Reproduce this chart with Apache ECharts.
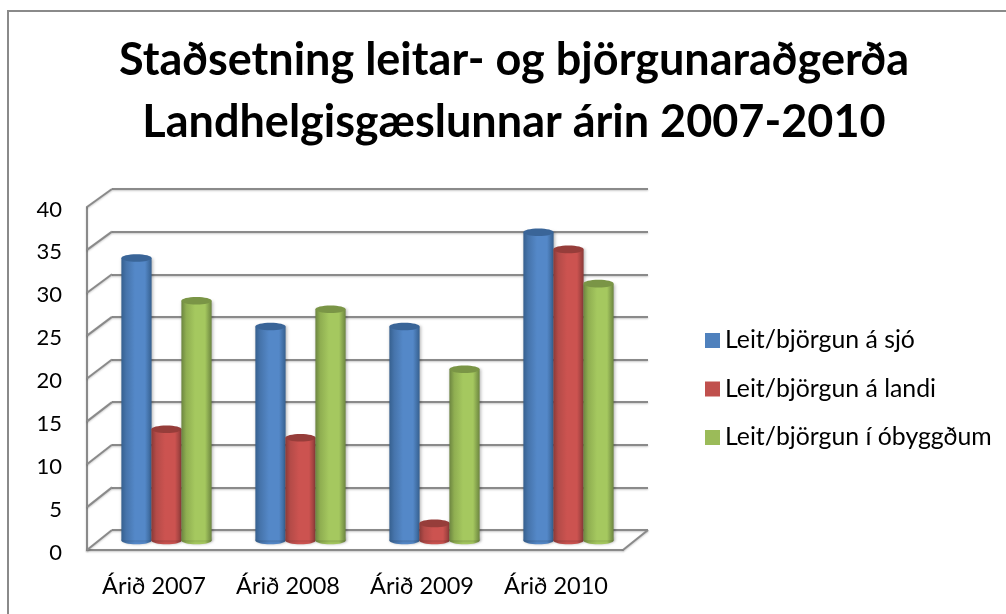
<!DOCTYPE html>
<html>
<head>
<meta charset="utf-8">
<style>
html,body{margin:0;padding:0;background:#fff;}
#chart{width:1006px;height:614px;}
</style>
<script src="https://cdn.jsdelivr.net/npm/echarts@6/dist/echarts.min.js"></script>
</head>
<body>
<div id="chart"></div>
<script>
const categories = ['Árið 2007', 'Árið 2008', 'Árið 2009', 'Árið 2010'];
const seaValues = [33, 25, 25, 36];
const landValues = [13, 12, 2, 34];
const wildValues = [28, 27, 20, 30];
const wallTicks = [0, 5, 10, 15, 20, 25, 30, 35, 40];
const seriesNames = ['Leit/björgun á sjó', 'Leit/björgun á landi', 'Leit/björgun í óbyggðum'];

const fontName = 'Lato';
const lineColor = '#8a8a8a';
const lineShadow = { shadowColor: 'rgba(0,0,0,0.22)', shadowBlur: 2, shadowOffsetY: 1 };

// 3 plön: framveggur (grid 0), bakveggur (grid 1), miðja fyrir súlurnar (grid 2)
const grids = [
    { left: 87, top: 207, width: 536, height: 343 },
    { left: 112, top: 189, width: 536, height: 341 },
    { left: 99.5, top: 198, width: 536, height: 342.5 }
];

// sívalningur: rect + neðri sporbaugur með lóðréttum skugga, toppur dekkri
const cylinder = (offset, colors) => (params, api) => {
    const top = api.coord([api.value(0), api.value(1)]);
    const base = api.coord([api.value(0), 0]);
    const band = api.size([1, 0])[0];
    const w = band * 0.2255;
    const cx = top[0] + offset * band * 0.224;
    const ry = 3.8;
    const fill = new echarts.graphic.LinearGradient(0, 0, 1, 0, [
        { offset: 0, color: colors[0] },
        { offset: 0.16, color: colors[1] },
        { offset: 0.45, color: colors[2] },
        { offset: 0.78, color: colors[2] },
        { offset: 1, color: colors[0] }
    ]);
    const shadow = { shadowColor: 'rgba(0,0,0,0.28)', shadowBlur: 3, shadowOffsetX: 1 };
    return {
        type: 'group',
        children: [
            {
                type: 'ellipse',
                shape: { cx: cx, cy: base[1], rx: w / 2, ry: ry },
                style: { fill: fill, ...shadow }
            },
            {
                type: 'rect',
                shape: { x: cx - w / 2, y: top[1], width: w, height: base[1] - top[1] },
                style: { fill: fill, ...shadow }
            },
            {
                type: 'ellipse',
                shape: { cx: cx, cy: top[1], rx: w / 2, ry: ry },
                style: { fill: colors[3] }
            }
        ]
    };
};

const barSeries = (name, values, offset, legendColor, colors) => ({
    name: name,
    type: 'custom',
    xAxisIndex: 2,
    yAxisIndex: 2,
    data: values.map((v, i) => [i, v]),
    encode: { x: 0, y: 1 },
    itemStyle: { color: legendColor },
    renderItem: cylinder(offset, colors),
    z: 5,
    silent: true
});

// hliðarlínur frá framvegg að bakvegg
const renderWall = (params, api) => {
    const v = api.value(0);
    const p = api.coord([0, v]);
    const left = params.coordSys.x;
    const right = left + params.coordSys.width;
    const dy = 18 + 2 * (1 - v / 40);
    const style = { stroke: lineColor, lineWidth: 2, ...lineShadow };
    const children = [{
        type: 'line',
        shape: { x1: left, y1: p[1], x2: left + 25, y2: p[1] - dy },
        style: style
    }];
    if (v === 0) {
        children.push({
            type: 'line',
            shape: { x1: right, y1: p[1], x2: right + 25, y2: p[1] - dy },
            style: style
        });
    }
    return { type: 'group', children: children };
};

const hiddenX = (i) => ({ type: 'category', gridIndex: i, data: categories, show: false });
const hiddenY = (i) => ({ type: 'value', gridIndex: i, min: 0, max: 40, interval: 5, axisLabel: { show: false }, axisLine: { show: false }, axisTick: { show: false }, splitLine: { show: false } });

const chart = echarts.init(document.getElementById('chart'));
chart.setOption({
    animation: false,
    backgroundColor: '#fff',
    title: {
        text: 'Staðsetning leitar- og björgunaraðgerða\nLandhelgisgæslunnar árin 2007-2010',
        left: 509,
        top: 24,
        textAlign: 'center',
        textStyle: { fontFamily: fontName, fontWeight: 'bold', fontSize: 45, lineHeight: 62, color: '#000' }
    },
    legend: {
        orient: 'vertical',
        left: 700,
        top: 323,
        itemWidth: 15,
        itemHeight: 15,
        itemGap: 23.5,
        icon: 'rect',
        data: seriesNames,
        selectedMode: false,
        textStyle: { fontFamily: fontName, fontSize: 24.8, color: '#000' }
    },
    grid: grids,
    xAxis: [
        {
            type: 'category',
            gridIndex: 0,
            data: categories,
            axisLine: { lineStyle: { color: lineColor, width: 2, ...lineShadow } },
            axisTick: { show: false },
            axisLabel: { fontFamily: fontName, fontSize: 23.5, color: '#000', margin: 24, interval: 0 }
        },
        hiddenX(1),
        hiddenX(2)
    ],
    yAxis: [
        {
            type: 'value',
            gridIndex: 0,
            min: 0,
            max: 40,
            interval: 5,
            axisLine: { show: true, lineStyle: { color: lineColor, width: 2, ...lineShadow } },
            axisTick: { show: false },
            // lineHeight + top ýtir tölunum aðeins niður
            axisLabel: { fontFamily: fontName, fontSize: 22, color: '#000', margin: 25, verticalAlign: 'top', lineHeight: 5 },
            splitLine: { show: false }
        },
        {
            ...hiddenY(1),
            splitLine: { show: true, lineStyle: { color: lineColor, width: 2, ...lineShadow } }
        },
        hiddenY(2)
    ],
    series: [
        {
            type: 'custom',
            xAxisIndex: 0,
            yAxisIndex: 0,
            data: wallTicks.map(v => [v]),
            encode: { y: 0 },
            renderItem: renderWall,
            silent: true,
            z: 1
        },
        barSeries(seriesNames[0], seaValues, -1, '#4f81bd', ['#36608f', '#4674ab', '#5488c8', '#3a6598']),
        barSeries(seriesNames[1], landValues, 0, '#c0504d', ['#8a3a38', '#b44b48', '#cc5350', '#963d3a']),
        barSeries(seriesNames[2], wildValues, 1, '#9bbb59', ['#6c8540', '#8fae51', '#a5c85f', '#7a9546'])
    ],
    graphic: [
        {
            type: 'rect',
            shape: { x: 8, y: 11, width: 1100, height: 700 },
            style: { fill: 'none', stroke: lineColor, lineWidth: 2 },
            silent: true,
            z: 0
        }
    ]
});
</script>
</body>
</html>
